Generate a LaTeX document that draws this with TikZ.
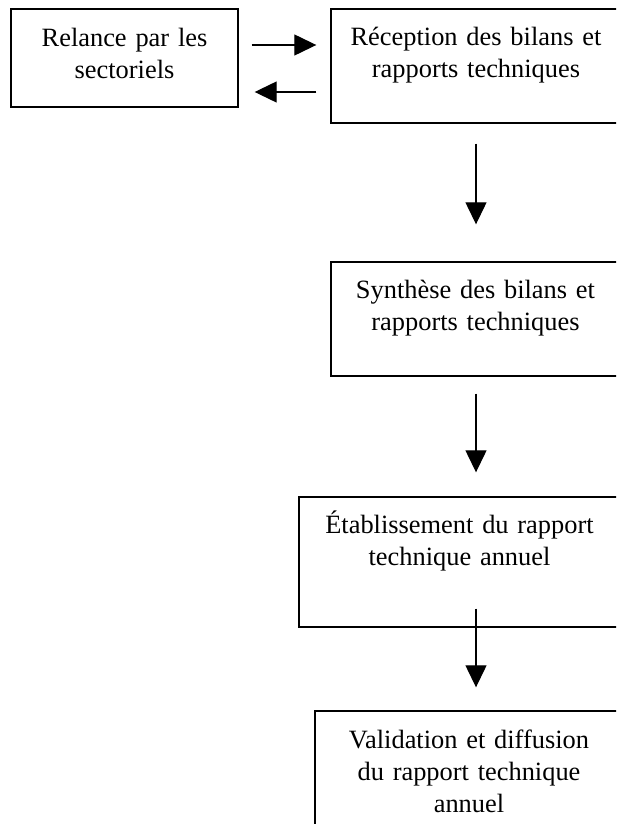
\documentclass[tikz,border=0pt]{standalone}
\usepackage{fontspec}
\setmainfont{Liberation Serif}
\usetikzlibrary{arrows.meta}
\tikzset{>={Triangle[length=22pt,width=21pt]}}

\begin{document}
\begin{tikzpicture}[x=1pt, y=-1pt,
		stepbox/.style={rectangle, draw=black, line width=1.4pt, inner sep=0pt, align=center, anchor=base, font=\fontsize{26.4}{32}\selectfont},
		link/.style={->, line width=1.3pt}]
		\useasboundingbox (0,0) rectangle (616,824);
		\clip (0,0) rectangle (616,824);
		\node[stepbox, text width=227pt, text height=38pt, text depth=60pt] (1) at (124.5,47) {Relance par les\\sectoriels};
		\node[stepbox, text width=290pt, text height=37pt, text depth=77pt] (2) at (476,46) {Réception des bilans et\\rapports techniques};
		\node[stepbox, text width=289pt, text height=36pt, text depth=78pt] (3) at (475.5,298) {Synthèse des bilans et\\rapports techniques};
		\node[stepbox, text width=321pt, text height=36pt, text depth=94pt] (4) at (459.5,533) {Établissement du rapport\\technique annuel};
		\node[stepbox, text width=308pt, text height=37pt, text depth=112pt] (5) at (469,748) {Validation et diffusion\\du rapport technique\\annuel};
		
		\path ([yshift=2pt]1.base east) edge[link, shorten <=13pt, shorten >=14pt] ([yshift=2pt]1.base east -| 2.west);
		\path ([yshift=-45pt]1.base east -| 2.west) edge[link, shorten <=14pt, shorten >=16pt] ([yshift=-45pt]1.base east);
		\path (2.south) edge[link, shorten <=20pt, shorten >=37pt] (3.north -| 2.south);
		\path (3.south -| 2.south) edge[link, shorten <=17pt, shorten >=24pt] (4.north -| 2.south);
		\path ([yshift=19pt]4.south -| 2.south) edge[link, shorten >=23pt] (5.north -| 2.south);
		
	\end{tikzpicture}
\end{document}
